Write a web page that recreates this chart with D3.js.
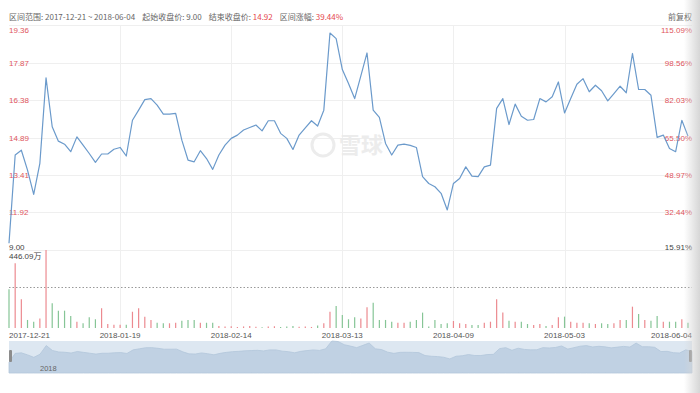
<!DOCTYPE html>
<html>
<head>
<meta charset="utf-8">
<title></title>
<style>
  body { margin: 0; background: #fff; }
  svg { display: block; font-family: "Liberation Sans", Arial, "Noto Sans CJK SC", sans-serif; }
</style>
</head>
<body>
<svg width="700" height="393"></svg>
<script src="https://d3js.org/d3.v7.min.js"></script>
<script type="text/javascript">
// closing prices, one per trading day
const closes = [10.70, 14.20, 14.39, 13.60, 12.64, 13.87, 17.26, 15.32, 14.75, 14.63,
    14.33, 14.92, 14.59, 14.26, 13.91, 14.24, 14.24, 14.43, 14.50, 14.16,
    15.58, 15.98, 16.40, 16.44, 16.18, 15.82, 15.82, 15.85, 14.79, 14.00,
    13.93, 14.37, 14.06, 13.63, 14.20, 14.59, 14.86, 14.99, 15.19, 15.29,
    15.39, 15.16, 15.56, 15.56, 15.06, 14.86, 14.42, 14.99, 15.28, 15.56,
    15.35, 15.98, 19.04, 18.82, 17.59, 17.04, 16.44, 17.34, 18.25, 15.98,
    15.69, 14.66, 14.20, 14.59, 14.63, 14.58, 14.50, 13.34, 13.07, 12.94,
    12.68, 12.02, 13.07, 13.27, 13.73, 13.36, 13.34, 13.73, 13.80, 16.05,
    16.44, 15.41, 16.22, 15.74, 15.58, 15.61, 16.44, 16.31, 16.51, 17.10,
    15.87, 16.44, 17.01, 17.23, 16.71, 16.97, 16.75, 16.35, 16.64, 16.93,
    16.67, 18.23, 16.80, 16.80, 16.57, 14.90, 14.99, 14.46, 14.33, 15.58,
    14.95];

// volume in 万
const volumes = [221, 370, 164, 46, 36, 55, 446.09, 141, 99, 99,
    69, 36, 27, 61, 50, 113, 23, 19, 19, 19,
    93, 113, 65, 46, 30, 27, 27, 30, 42, 46,
    46, 30, 30, 30, 12, 8, 10, 6, 9, 12,
    7, 5, 9, 10, 6, 8, 11, 7, 9, 6,
    14, 27, 93, 126, 74, 50, 61, 55, 118, 145,
    46, 46, 36, 30, 30, 36, 46, 88, 8, 46,
    23, 27, 40, 27, 23, 17, 17, 30, 36, 164,
    88, 42, 36, 36, 23, 17, 23, 11, 17, 61,
    65, 36, 30, 30, 27, 23, 27, 23, 27, 46,
    46, 122, 80, 46, 42, 69, 36, 36, 36, 50,
    30];

const priceTicks = [19.36, 17.87, 16.38, 14.89, 13.41, 11.92, 10.43];
const leftLabels = ["19.36", "17.87", "16.38", "14.89", "13.41", "11.92", "9.00"];
const rightLabels = ["115.09%", "98.56%", "82.03%", "65.50%", "48.97%", "32.44%", "15.91%"];

const dateTickIdx = [0, 18, 36, 54, 72, 90, 110];
const dateTickLabels = ["2017-12-21", "2018-01-19", "2018-02-14", "2018-03-13", "2018-04-09", "2018-05-03", "2018-06-04"];

const volMax = 446.09;
const volMaxLabel = "446.09万";

const header = [
    {t: "区间范围: 2017-12-21 ~ 2018-06-04", c: "#666"},
    {t: "起始收盘价: 9.00", c: "#666"},
    {t: "结束收盘价: ", c: "#666"},
    {t: "14.92", c: "#e5484d"},
    {t: "区间涨幅: ", c: "#666"},
    {t: "39.44%", c: "#e5484d"}
];

const red = "#ec8a90", green = "#86c596";
const L = 9, R = 692;

const svg = d3.select("svg");

const x = d3.scaleLinear().domain([0, closes.length - 1]).range([9, 688]);
const y = d3.scaleLinear().domain([priceTicks[priceTicks.length - 1], priceTicks[0]]).range([250, 25]);
const yv = d3.scaleLinear().domain([0, volMax]).range([328, 250]);

// header line
const head = svg.append("text")
    .attr("x", L).attr("y", 20)
    .attr("font-size", 8)
    .attr("font-family", "'Noto Sans CJK SC', sans-serif");
header.forEach((h, i) => {
    head.append("tspan")
        .attr("dx", i == 0 || i == 3 || i == 5 ? 0 : 7)
        .attr("fill", h.c)
        .text(h.t);
});
svg.append("text")
    .attr("x", R).attr("y", 20)
    .attr("text-anchor", "end")
    .attr("font-size", 8)
    .attr("fill", "#666")
    .attr("font-family", "'Noto Sans CJK SC', sans-serif")
    .text("前复权");

// grid
const grid = svg.append("g").attr("stroke", "#efefef").attr("stroke-width", 1);
grid.selectAll("line.h")
    .data(priceTicks)
    .join("line")
    .attr("class", "h")
    .attr("x1", L).attr("x2", R)
    .attr("y1", d => Math.round(y(d)) + 0.5)
    .attr("y2", d => Math.round(y(d)) + 0.5);
grid.selectAll("line.v")
    .data(dateTickIdx.slice(1, -1))
    .join("line")
    .attr("class", "v")
    .attr("x1", d => Math.round(x(d)) + 0.5)
    .attr("x2", d => Math.round(x(d)) + 0.5)
    .attr("y1", 25).attr("y2", 328);

// watermark
const wm = svg.append("g").attr("opacity", 0.9);
wm.append("circle")
    .attr("cx", 323).attr("cy", 145).attr("r", 11)
    .attr("fill", "none").attr("stroke", "#ebebeb").attr("stroke-width", 3);
wm.append("text")
    .attr("x", 339).attr("y", 153)
    .attr("font-size", 22).attr("font-weight", "bold")
    .attr("fill", "#ebebeb")
    .attr("font-family", "'Noto Sans CJK SC', sans-serif")
    .text("雪球");

// price axis labels
svg.append("g").selectAll("text")
    .data(priceTicks)
    .join("text")
    .attr("x", L)
    .attr("y", (d, i) => y(d) + (i == 0 ? 8 : i == priceTicks.length - 1 ? -0.5 : 3))
    .attr("font-size", 8)
    .attr("fill", (d, i) => i == priceTicks.length - 1 ? "#444" : "#e0555c")
    .text((d, i) => leftLabels[i]);
svg.append("g").selectAll("text")
    .data(priceTicks)
    .join("text")
    .attr("x", R)
    .attr("text-anchor", "end")
    .attr("y", (d, i) => y(d) + (i == 0 ? 8 : i == priceTicks.length - 1 ? -0.5 : 3))
    .attr("font-size", 8)
    .attr("fill", (d, i) => i == priceTicks.length - 1 ? "#444" : "#e0555c")
    .text((d, i) => rightLabels[i]);

// price line
svg.append("path")
    .datum(closes)
    .attr("fill", "none")
    .attr("stroke", "#6b9acb")
    .attr("stroke-width", 1.2)
    .attr("stroke-linejoin", "round")
    .attr("d", d3.line().x((d, i) => x(i)).y(d => y(d)));

// volume
svg.append("text")
    .attr("x", L).attr("y", 259)
    .attr("font-size", 8).attr("fill", "#444")
    .attr("font-family", "'Liberation Sans', 'Noto Sans CJK SC', sans-serif")
    .text(volMaxLabel);
svg.append("line")
    .attr("x1", L).attr("x2", R)
    .attr("y1", yv(volMax / 2) - 1.5).attr("y2", yv(volMax / 2) - 1.5)
    .attr("stroke", "#999").attr("stroke-dasharray", "1.5,2");
svg.append("g").selectAll("line")
    .data(volumes)
    .join("line")
    .attr("x1", (d, i) => x(i)).attr("x2", (d, i) => x(i))
    .attr("y1", yv(0)).attr("y2", d => yv(d))
    .attr("stroke-width", 1.2)
    .attr("stroke", (d, i) => i > 0 && closes[i] >= closes[i - 1] ? red : green);

// date labels
svg.append("g").selectAll("text")
    .data(dateTickIdx)
    .join("text")
    .attr("x", (d, i) => i == 0 ? L : i == dateTickIdx.length - 1 ? R : x(d))
    .attr("y", 338)
    .attr("text-anchor", (d, i) => i == 0 ? "start" : i == dateTickIdx.length - 1 ? "end" : "middle")
    .attr("font-size", 8)
    .attr("fill", "#555")
    .text((d, i) => dateTickLabels[i]);

// navigator
const nav = svg.append("g");
nav.append("rect")
    .attr("x", L).attr("y", 341).attr("width", R - L).attr("height", 32)
    .attr("fill", "#dde7f1");
const xn = d3.scaleLinear().domain([0, closes.length - 1]).range([L, R]);
const yn = d3.scaleLinear().domain([6.5, d3.max(closes)]).range([373, 341]);
nav.append("path")
    .datum(closes)
    .attr("fill", "#c0d1e3")
    .attr("stroke", "#b2c6da")
    .attr("stroke-width", 0.8)
    .attr("d", d3.area().x((d, i) => xn(i)).y0(373).y1(d => yn(d)));
[L, R - 3].forEach(hx => {
    nav.append("rect")
        .attr("x", hx).attr("y", 350).attr("width", 3).attr("height", 12)
        .attr("rx", 1).attr("fill", "#8c8c8c");
});
nav.append("text")
    .attr("x", 40).attr("y", 371)
    .attr("font-size", 7.5).attr("fill", "#666")
    .text("2018");

// right edge shade
const defs = svg.append("defs");
const grad = defs.append("linearGradient").attr("id", "shade");
grad.append("stop").attr("offset", "0%").attr("stop-color", "#d6d6d6").attr("stop-opacity", 0);
grad.append("stop").attr("offset", "100%").attr("stop-color", "#d6d6d6").attr("stop-opacity", 1);
svg.append("rect")
    .attr("x", 684).attr("y", 0).attr("width", 16).attr("height", 393)
    .attr("fill", "url(#shade)");
</script>
</body>
</html>
